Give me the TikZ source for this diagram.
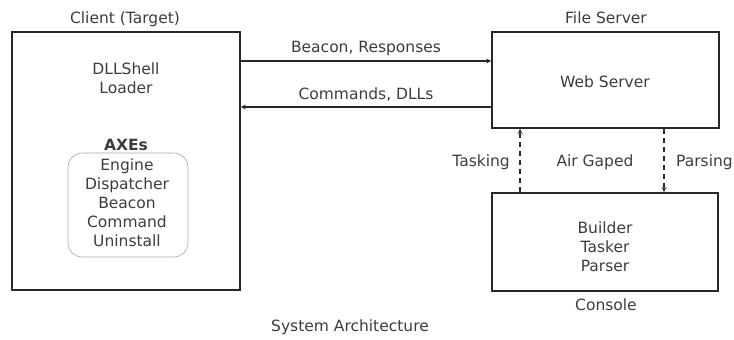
\documentclass[tikz,border=0pt]{standalone}
\usepackage{fontspec}
\setmainfont{DejaVu Sans}
\usetikzlibrary{arrows.meta}
\definecolor{ink}{RGB}{40,40,40}
\definecolor{txt}{RGB}{60,60,60}
\begin{document}
\begin{tikzpicture}[x=1pt,y=-1pt,
  font=\fontsize{15.5}{19}\selectfont,
  box/.style={draw=ink,line width=1.6pt,inner sep=0pt},
  lbl/.style={text=txt,inner sep=0pt,align=center},
  conn/.style={draw=ink,line width=1.2pt,-{Stealth[length=5pt,width=5pt]}},
  dconn/.style={conn,dashed,dash pattern=on 5pt off 4pt}]
\useasboundingbox (0,0) rectangle (734,340);
% boxes
\node[box,minimum width=228pt,minimum height=258pt] (client) at (126,161) {};
\node[box,minimum width=227pt,minimum height=96pt] (web) at (605.5,80) {};
\node[box,minimum width=226pt,minimum height=98pt] (console) at (605,242) {};
\node[draw=black!35,line width=0.6pt,rounded corners=14pt,minimum width=120pt,minimum height=104pt,inner sep=0pt] (axes) at (128,205) {};
% titles
\node[lbl] (tclient) at (125,19) {Client (Target)};
\node[lbl] (tfile) at (606,18) {File Server};
\node[lbl] (tconsole) at (606,305) {Console};
\node[lbl] (tsys) at (350,327) {System Architecture};
% inner text
\node[lbl] (dll) at (126,78) {DLLShell\\Loader};
\node[lbl,font=\fontsize{15.5}{19}\selectfont\bfseries] (axt) at (126,145) {AXEs};
\node[lbl] (axl) at (127,203) {Engine\\Dispatcher\\Beacon\\Command\\Uninstall};
\node[lbl] (wst) at (605,82) {Web Server};
\node[lbl] (btp) at (605,247) {Builder\\Tasker\\Parser};
% connectors
\coordinate (a1s) at (client.east |- 0,61);
\coordinate (a1e) at (web.west |- 0,61);
\coordinate (a2s) at (web.west |- 0,107);
\coordinate (a2e) at (client.east |- 0,107);
\draw[conn] (a1s) -- node[lbl,above=5pt] (l1) {Beacon, Responses} (a1e);
\draw[conn] (a2s) -- node[lbl,above=5pt] (l2) {Commands, DLLs} (a2e);
\coordinate (t1s) at (520,0 |- console.north);
\coordinate (t1e) at (520,0 |- web.south);
\coordinate (p1s) at (664,0 |- web.south);
\coordinate (p1e) at (664,0 |- console.north);
\draw[dconn] (t1s) -- (t1e);
\draw[dconn] (p1s) -- (p1e);
\node[lbl,anchor=east] (ltask) at (510,162) {Tasking};
\node[lbl] (lair) at (595,162) {Air Gaped};
\node[lbl,anchor=west] (lpars) at (676,162) {Parsing};
\end{tikzpicture}
\end{document}
